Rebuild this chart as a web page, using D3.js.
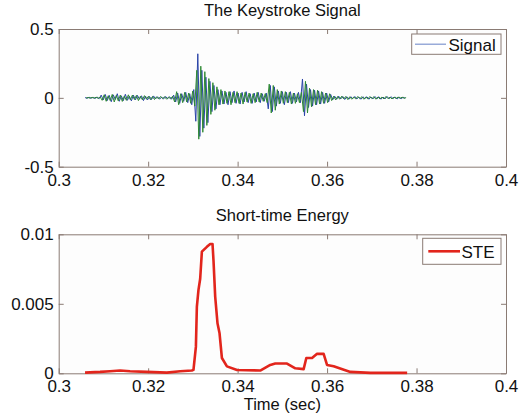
<!DOCTYPE html>
<html><head><meta charset="utf-8">
<script src="https://cdn.jsdelivr.net/npm/d3@7"></script>
<style>
html,body{margin:0;padding:0;background:#fff;}
svg{display:block;font-family:"Liberation Sans",Arial,sans-serif;}
</style></head>
<body>
<script>
// ---- Data ----
const signalStartBlue = 0.3059, signalStartGreen = 0.30612, signalStep = 0.00045;
const signalBlue = [0.002,-0.003,0.004,-0.002,0.003,-0.004,0.005,-0.006,
0.02,-0.015,0.025,-0.02,0.018,-0.028,0.022,-0.012,0.03,-0.025,0.015,-0.02,0.026,-0.018,0.012,-0.022,0.02,-0.015,0.018,-0.01,0.015,-0.02,0.012,-0.015,0.01,-0.012,0.014,-0.008,
0.008,-0.01,0.006,-0.008,0.01,-0.006,0.008,-0.01,
0.02,-0.03,0.035,-0.04,0.03,-0.025,0.04,-0.035,0.03,
-0.05,0.06,
-0.17,0.32,-0.28,0.2,
-0.22,0.15,-0.18,0.12,-0.1,0.09,-0.08,
0.06,-0.05,0.05,-0.045,0.04,-0.05,0.045,-0.035,0.05,-0.04,0.035,-0.045,0.04,-0.03,0.045,-0.035,0.03,-0.04,0.035,-0.03,0.04,-0.035,0.03,-0.025,0.035,
-0.08,0.09,-0.1,0.08,-0.06,
0.05,-0.04,0.045,-0.05,0.04,-0.035,0.045,-0.04,0.035,-0.03,0.04,-0.035,
0.137,-0.13,0.1,
-0.07,0.06,-0.06,0.055,-0.05,0.05,-0.045,0.04,-0.04,0.035,-0.03,0.025,
-0.015,0.012,-0.01,0.012,-0.008,0.01,-0.012,0.008,-0.01,0.008,-0.006,0.01,-0.008,0.006,-0.01,0.008,-0.006,0.008,-0.01,0.006,-0.008,0.01,-0.006,0.008,-0.01,0.006,-0.008,0.01,-0.006,0.008,-0.005,0.006,-0.008,0.005,-0.006,0.004,-0.003];
const signalGreen = [-0.002,0.003,-0.003,0.004,-0.003,0.005,-0.004,0.006,
-0.018,0.022,-0.025,0.015,-0.02,0.025,-0.03,0.018,-0.022,0.02,-0.026,0.014,-0.018,0.022,-0.015,0.02,-0.012,0.018,-0.02,0.012,-0.015,0.016,-0.01,0.012,-0.014,0.01,-0.012,0.008,
-0.008,0.01,-0.006,0.008,-0.01,0.006,-0.008,0.012,
-0.03,0.045,-0.05,0.03,-0.035,0.04,-0.03,0.035,-0.04,
0.05,-0.06,
0.2,-0.30,0.23,-0.25,
0.19,-0.2,0.14,-0.12,0.11,-0.09,0.08,
-0.05,0.06,-0.045,0.05,-0.04,0.045,-0.05,0.04,-0.035,0.045,-0.04,0.035,-0.045,0.04,-0.03,0.035,-0.04,0.03,-0.035,0.04,-0.03,0.035,-0.025,0.03,-0.035,
0.1,-0.11,0.09,-0.09,0.06,
-0.045,0.05,-0.04,0.045,-0.035,0.04,-0.045,0.035,-0.04,0.03,-0.035,0.04,
-0.1,0.12,-0.11,
0.07,-0.065,0.06,-0.05,0.055,-0.045,0.045,-0.04,0.035,-0.035,0.03,-0.02,
0.012,-0.015,0.01,-0.01,0.012,-0.008,0.01,-0.012,0.008,-0.01,0.006,-0.008,0.01,-0.006,0.008,-0.01,0.006,-0.008,0.01,-0.006,0.008,-0.01,0.006,-0.008,0.006,-0.008,0.01,-0.006,0.005,-0.008,0.006,-0.005,0.006,-0.004,0.005,-0.003,0.002];

const steTime = [0.30589,0.30925,0.31148,0.31372,0.31596,0.3197,0.32418,0.32715,0.32977,0.33013,0.33067,0.33089,0.33125,0.33163,0.33201,0.33313,0.33387,0.33439,0.33461,0.33499,0.3355,0.33595,0.33649,0.33761,0.33985,0.34506,0.3473,0.34842,0.35104,0.3529,0.35476,0.35536,0.35664,0.35776,0.35923,0.35999,0.36147,0.36521,0.36969,0.3779];
const steValue = [0.00005,0.0001,0.00015,0.0002,0.00015,0.0001,0.00005,0.00015,0.0002,0.00025,0.0019,0.0048,0.006,0.0068,0.00875,0.0091,0.0093,0.0093,0.0081,0.0055,0.0036,0.0029,0.0011,0.0005,0.00024,0.0002,0.0006,0.0007,0.0007,0.00036,0.0003,0.0011,0.0011,0.0014,0.0014,0.0006,0.0005,0.0001,0.00003,0.00003];

const xTicks = [0.3,0.32,0.34,0.36,0.38,0.4];
const xTickLabels = ["0.3","0.32","0.34","0.36","0.38","0.4"];
const yTicksTop = [-0.5,0,0.5];
const yTickLabelsTop = ["-0.5","0","0.5"];
const yTicksBottom = [0,0.005,0.01];
const yTickLabelsBottom = ["0","0.005","0.01"];

// ---- Drawing ----
const W = 519, H = 419;
const axisColor = "#8a7b74";
const FS = "17px";
const svg = d3.select("body").append("svg").attr("width", W).attr("height", H);
svg.append("rect").attr("width", W).attr("height", H).attr("fill", "#ffffff");

const x = d3.scaleLinear().domain([0.3, 0.4]).range([58.7, 506]);

function panel(top, bottom, yDomain, yTicks, yLabels, title, titleY) {
  const y = d3.scaleLinear().domain(yDomain).range([bottom, top]);
  const g = svg.append("g");
  g.append("rect").attr("x", x.range()[0]).attr("y", top)
    .attr("width", x.range()[1] - x.range()[0]).attr("height", bottom - top)
    .attr("fill", "#fdfdfd");
  const tickLen = 5;
  const axB = g.append("g").attr("transform", `translate(0,${bottom})`)
    .call(d3.axisBottom(x).tickValues(xTicks).tickFormat((d,i)=>xTickLabels[i]).tickSizeInner(-tickLen).tickSizeOuter(0).tickPadding(7));
  const axT = g.append("g").attr("transform", `translate(0,${top})`)
    .call(d3.axisTop(x).tickValues(xTicks).tickFormat("").tickSizeInner(-tickLen).tickSizeOuter(0));
  const axL = g.append("g").attr("transform", `translate(${x.range()[0]},0)`)
    .call(d3.axisLeft(y).tickValues(yTicks).tickFormat((d,i)=>yLabels[i]).tickSizeInner(-tickLen).tickSizeOuter(0).tickPadding(5));
  const axR = g.append("g").attr("transform", `translate(${x.range()[1]},0)`)
    .call(d3.axisRight(y).tickValues(yTicks).tickFormat("").tickSizeInner(-tickLen).tickSizeOuter(0));
  [axB, axT, axL, axR].forEach(a => {
    a.selectAll("path,line").attr("stroke", axisColor).attr("stroke-width", 1);
    a.selectAll("text").attr("fill", "#111").style("font-size", FS);
  });
  axB.selectAll("text").attr("dy", "0.71em");
  svg.append("text").attr("x", (x.range()[0] + x.range()[1]) / 2).attr("y", titleY)
    .attr("text-anchor", "middle").attr("fill", "#111").style("font-size", "16.5px").text(title);
  return {g, y};
}

// Top panel: signal
const p1 = panel(29, 166.7, [-0.5, 0.5], yTicksTop, yTickLabelsTop, "The Keystroke Signal", 15.5);
const lineBlue = d3.line().x((d,i) => x(signalStartBlue + i * signalStep)).y(d => p1.y(d));
const lineGreen = d3.line().x((d,i) => x(signalStartGreen + i * signalStep)).y(d => p1.y(d));
p1.g.append("path").datum(signalBlue).attr("d", lineBlue)
  .attr("fill", "none").attr("stroke", "#2a44a8").attr("stroke-width", 1);
p1.g.append("path").datum(signalGreen).attr("d", lineGreen)
  .attr("fill", "none").attr("stroke", "#2f8a34").attr("stroke-width", 1);

// Legend 1
const lg1 = svg.append("g");
lg1.append("rect").attr("x", 411.7).attr("y", 34).attr("width", 89.3).attr("height", 20.3)
  .attr("fill", "#fff").attr("stroke", axisColor);
lg1.append("line").attr("x1", 415).attr("x2", 446).attr("y1", 44.2).attr("y2", 44.2)
  .attr("stroke", "#7f96d0").attr("stroke-width", 1.2);
lg1.append("text").attr("x", 448.5).attr("y", 50.5).attr("fill", "#111").style("font-size", FS).text("Signal");

// Bottom panel: STE
const p2 = panel(234.3, 373.3, [0, 0.01], yTicksBottom, yTickLabelsBottom, "Short-time Energy", 221);
const steLine = d3.line().x((d,i) => x(steTime[i])).y(d => p2.y(d));
p2.g.append("path").datum(steValue).attr("d", steLine)
  .attr("fill", "none").attr("stroke", "#e2251c").attr("stroke-width", 2.6)
  .attr("stroke-linejoin", "round");

// Legend 2
const lg2 = svg.append("g");
lg2.append("rect").attr("x", 422.7).attr("y", 238.3).attr("width", 78.3).attr("height", 26)
  .attr("fill", "#fff").attr("stroke", axisColor);
lg2.append("line").attr("x1", 428.3).attr("x2", 460).attr("y1", 251.3).attr("y2", 251.3)
  .attr("stroke", "#e2251c").attr("stroke-width", 2.6);
lg2.append("text").attr("x", 461.5).attr("y", 257.5).attr("fill", "#111").style("font-size", FS).text("STE");

// X label
svg.append("text").attr("x", (x.range()[0] + x.range()[1]) / 2).attr("y", 410)
  .attr("text-anchor", "middle").attr("fill", "#111").style("font-size", "16.5px").text("Time (sec)");
</script>
</body></html>
